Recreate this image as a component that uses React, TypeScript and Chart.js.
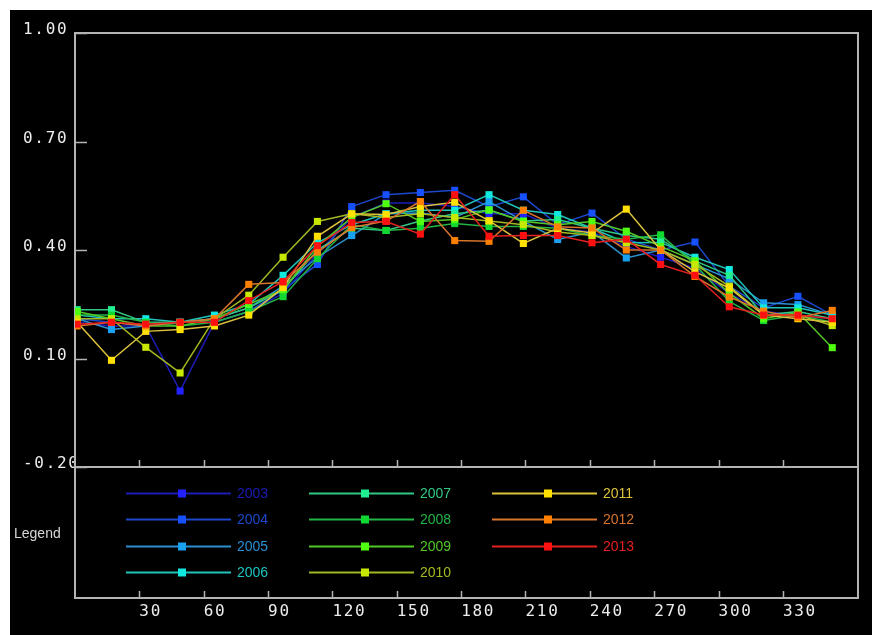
import { useEffect, useRef } from 'react';
import { Chart, registerables } from 'chart.js';

Chart.register(...registerables);

// Day of year of each 16-day composite
const DAYS = [1, 17, 33, 49, 65, 81, 97, 113, 129, 145, 161, 177, 193, 209, 225, 241, 257, 273, 289, 305, 321, 337, 353];

const YEARS = ['2003', '2004', '2005', '2006', '2007', '2008', '2009', '2010', '2011', '2012', '2013'];

const Y2003 = [0.20, 0.19, 0.19, 0.01, 0.20, 0.23, 0.28, 0.39, 0.49, 0.53, 0.53, 0.52, 0.50, 0.50, 0.46, 0.45, 0.41, 0.38, 0.35, 0.28, 0.23, 0.22, 0.21];
const Y2004 = [0.21, 0.20, 0.19, 0.20, 0.20, 0.23, 0.29, 0.36, 0.52, 0.553, 0.559, 0.565, 0.52, 0.547, 0.47, 0.502, 0.43, 0.40, 0.422, 0.30, 0.24, 0.272, 0.22];
const Y2005 = [0.21, 0.18, 0.19, 0.20, 0.21, 0.24, 0.30, 0.38, 0.44, 0.50, 0.502, 0.49, 0.534, 0.48, 0.429, 0.45, 0.378, 0.40, 0.36, 0.32, 0.254, 0.249, 0.22];
const Y2006 = [0.22, 0.21, 0.21, 0.20, 0.22, 0.25, 0.33, 0.42, 0.47, 0.50, 0.51, 0.51, 0.553, 0.51, 0.498, 0.46, 0.42, 0.421, 0.38, 0.346, 0.24, 0.24, 0.22];
const Y2007 = [0.235, 0.235, 0.20, 0.20, 0.21, 0.24, 0.29, 0.40, 0.46, 0.454, 0.48, 0.50, 0.51, 0.48, 0.484, 0.46, 0.44, 0.43, 0.37, 0.33, 0.22, 0.23, 0.21];
const Y2008 = [0.22, 0.22, 0.20, 0.19, 0.20, 0.23, 0.271, 0.376, 0.47, 0.454, 0.46, 0.473, 0.465, 0.465, 0.46, 0.44, 0.43, 0.442, 0.36, 0.258, 0.205, 0.22, 0.20];
const Y2009 = [0.23, 0.21, 0.19, 0.19, 0.21, 0.25, 0.29, 0.41, 0.49, 0.528, 0.479, 0.484, 0.511, 0.479, 0.47, 0.479, 0.452, 0.41, 0.37, 0.28, 0.21, 0.228, 0.13];
const Y2010 = [0.21, 0.21, 0.131, 0.06, 0.21, 0.275, 0.38, 0.479, 0.50, 0.49, 0.50, 0.49, 0.48, 0.47, 0.45, 0.44, 0.42, 0.40, 0.36, 0.30, 0.22, 0.22, 0.191];
const Y2011 = [0.20, 0.095, 0.175, 0.18, 0.19, 0.22, 0.296, 0.438, 0.50, 0.498, 0.52, 0.532, 0.481, 0.418, 0.46, 0.447, 0.513, 0.40, 0.34, 0.295, 0.22, 0.21, 0.20];
const Y2012 = [0.19, 0.20, 0.19, 0.20, 0.21, 0.305, 0.31, 0.394, 0.462, 0.48, 0.534, 0.426, 0.424, 0.51, 0.464, 0.461, 0.40, 0.40, 0.327, 0.27, 0.231, 0.213, 0.233];
const Y2013 = [0.195, 0.20, 0.195, 0.20, 0.20, 0.26, 0.313, 0.412, 0.476, 0.479, 0.444, 0.553, 0.438, 0.44, 0.44, 0.42, 0.43, 0.36, 0.33, 0.243, 0.22, 0.22, 0.21];

const SERIES = [Y2003, Y2004, Y2005, Y2006, Y2007, Y2008, Y2009, Y2010, Y2011, Y2012, Y2013];

const X_TICKS = [30, 60, 90, 120, 150, 180, 210, 240, 270, 300, 330];
const Y_TICKS = [-0.2, 0.1, 0.4, 0.7, 1.0];
const X_MIN = 0;
const X_MAX = 365;
const Y_MIN = -0.2;
const Y_MAX = 1.0;

const MARKER_COLORS = ['#2222ff', '#1650ff', '#1aa0f0', '#10e8e0', '#20f090', '#10d830', '#50ff10', '#c8e800', '#ffe000', '#ff8000', '#ff1010'];
const LINE_COLORS = ['#1c1cb8', '#1c48cc', '#2a90d0', '#20c4bc', '#30c884', '#22b444', '#52c828', '#a4b822', '#dcc23c', '#d8742c', '#e42020'];

const FRAME = '#b4b4b4';
const LEGEND_BOX_H = 131;

const chromePlugin = {
  id: 'chrome',
  beforeDraw(chart: any) {
    const { ctx, width, height } = chart;
    ctx.save();
    ctx.fillStyle = '#ffffff';
    ctx.fillRect(0, 0, width, height);
    ctx.fillStyle = '#000000';
    ctx.fillRect(10, 10, width - 10, height - 10);
    ctx.restore();
    ctx.letterSpacing = '1.7px';
  },
  beforeDatasetsDraw(chart: any) {
    const { ctx, chartArea, scales } = chart;
    const { left, right, top, bottom } = chartArea;
    const boxBottom = bottom + LEGEND_BOX_H;
    ctx.save();
    ctx.strokeStyle = FRAME;
    ctx.lineWidth = 2;
    ctx.strokeRect(left, top, right - left, boxBottom - top);
    ctx.beginPath();
    ctx.moveTo(left, bottom);
    ctx.lineTo(right, bottom);
    ctx.stroke();
    ctx.lineWidth = 1.5;
    ctx.beginPath();
    for (const t of scales.y.ticks) {
      const y = Math.round(scales.y.getPixelForValue(t.value)) + 0.5;
      ctx.moveTo(left, y);
      ctx.lineTo(left + 12, y);
    }
    for (const t of scales.x.ticks) {
      const x = Math.round(scales.x.getPixelForValue(t.value)) + 0.5;
      ctx.moveTo(x, bottom);
      ctx.lineTo(x, bottom - 7);
      ctx.moveTo(x, boxBottom);
      ctx.lineTo(x, boxBottom - 7);
    }
    ctx.stroke();
    ctx.restore();
  },
  afterDraw(chart: any) {
    const { ctx, chartArea } = chart;
    const { left, bottom } = chartArea;
    ctx.save();
    ctx.letterSpacing = '0px';
    ctx.font = '14px "Liberation Sans", Arial, sans-serif';
    ctx.textBaseline = 'middle';
    ctx.fillStyle = '#d8d8d8';
    ctx.textAlign = 'left';
    ctx.fillText('Legend', 14, bottom + LEGEND_BOX_H / 2 + 2);
    YEARS.forEach((year, i) => {
      const col = Math.floor(i / 4);
      const row = i % 4;
      const y = Math.round(bottom + ((row + 1) * LEGEND_BOX_H) / 5) + 0.5;
      const x0 = left + 51 + col * 183;
      ctx.strokeStyle = LINE_COLORS[i];
      ctx.lineWidth = 2;
      ctx.beginPath();
      ctx.moveTo(x0, y);
      ctx.lineTo(x0 + 105, y);
      ctx.stroke();
      ctx.fillStyle = MARKER_COLORS[i];
      ctx.fillRect(x0 + 52, y - 4, 8, 8);
      ctx.fillStyle = LINE_COLORS[i];
      ctx.fillText(year, x0 + 111, y + 1);
    });
    ctx.restore();
  },
};

export default function App() {
  const ref = useRef<HTMLCanvasElement | null>(null);

  useEffect(() => {
    if (!ref.current) return;
    const datasets = SERIES.map((vals, i) => ({
      label: YEARS[i],
      data: DAYS.map((d, j) => ({ x: d, y: vals[j] })),
      borderColor: LINE_COLORS[i],
      backgroundColor: MARKER_COLORS[i],
      pointBackgroundColor: MARKER_COLORS[i],
      pointBorderWidth: 0,
      pointStyle: 'rect',
      pointRadius: 5,
      borderWidth: 1.5,
      tension: 0,
      order: SERIES.length - i,
    }));
    const chart = new Chart(ref.current, {
      type: 'line',
      data: { datasets },
      plugins: [chromePlugin],
      options: {
        animation: false,
        responsive: false,
        devicePixelRatio: 1,
        layout: { padding: { left: 23, top: 33, right: 14, bottom: 0 } },
        plugins: { legend: { display: false }, tooltip: { enabled: false } },
        scales: {
          x: {
            type: 'linear',
            min: X_MIN,
            max: X_MAX,
            grid: { display: false },
            border: { display: false },
            afterBuildTicks: (s: any) => {
              s.ticks = X_TICKS.map((v) => ({ value: v }));
            },
            afterFit: (s: any) => {
              s.height = 168;
              s.paddingLeft = 0;
              s.paddingRight = 0;
            },
            ticks: {
              autoSkip: false,
              maxRotation: 0,
              align: 'start',
              padding: 127,
              color: '#ececec',
              font: { family: '"DejaVu Sans Mono", monospace', size: 16 },
              callback: (v: any) => String(v),
            },
          },
          y: {
            type: 'linear',
            min: Y_MIN,
            max: Y_MAX,
            grid: { display: false },
            border: { display: false },
            afterBuildTicks: (s: any) => {
              s.ticks = Y_TICKS.map((v) => ({ value: v }));
            },
            afterFit: (s: any) => {
              s.width = 52;
              s.paddingTop = 0;
              s.paddingBottom = 0;
            },
            ticks: {
              crossAlign: 'far',
              labelOffset: -3,
              color: '#ececec',
              font: { family: '"DejaVu Sans Mono", monospace', size: 16 },
              callback: (v: any) => Number(v).toFixed(2),
            },
          },
        },
      } as any,
    });
    return () => chart.destroy();
  }, []);

  return (
    <div style={{ position: 'absolute', left: 0, top: 0, width: 872, height: 635 }}>
      <canvas ref={ref} width={872} height={635} style={{ display: 'block' }} />
    </div>
  );
}
